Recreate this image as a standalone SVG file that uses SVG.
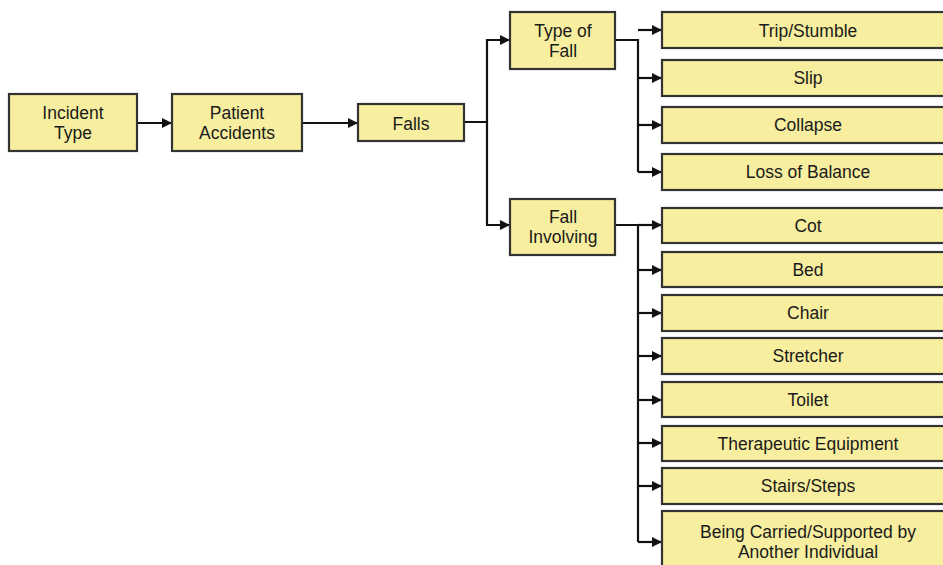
<svg xmlns="http://www.w3.org/2000/svg" width="943" height="565" viewBox="0 0 943 565">
<style>
.box{fill:#F7EE9F;stroke:#333;stroke-width:2.2}
.t{font-family:"Liberation Sans",Arial,sans-serif;font-size:17.5px;fill:#1a1a1a;text-anchor:middle}
.c{fill:none;stroke:#111;stroke-width:2.2}
</style>
<defs>
<marker id="ah" viewBox="0 0 10 10" refX="10" refY="5" markerWidth="12" markerHeight="10" markerUnits="userSpaceOnUse" orient="auto">
<path d="M0,0 L10,5 L0,10 z" fill="#111"/>
</marker>
</defs>
<rect width="943" height="565" fill="#fff"/>
<g id="connectors">
<path class="c" d="M137,123 H172" marker-end="url(#ah)"/>
<path class="c" d="M302,123 H358" marker-end="url(#ah)"/>
<path class="c" d="M464,122 H487 V40 H510" marker-end="url(#ah)"/>
<path class="c" d="M487,122 V225 H510" marker-end="url(#ah)"/>
<path class="c" d="M615,40 H638 V172"/>
<path class="c" d="M638,30 H662" marker-end="url(#ah)"/>
<path class="c" d="M638,78 H662" marker-end="url(#ah)"/>
<path class="c" d="M638,125 H662" marker-end="url(#ah)"/>
<path class="c" d="M638,172 H662" marker-end="url(#ah)"/>
<path class="c" d="M615,225 H638 V542"/>
<path class="c" d="M638,225 H662" marker-end="url(#ah)"/>
<path class="c" d="M638,270 H662" marker-end="url(#ah)"/>
<path class="c" d="M638,313 H662" marker-end="url(#ah)"/>
<path class="c" d="M638,356 H662" marker-end="url(#ah)"/>
<path class="c" d="M638,400 H662" marker-end="url(#ah)"/>
<path class="c" d="M638,443 H662" marker-end="url(#ah)"/>
<path class="c" d="M638,486 H662" marker-end="url(#ah)"/>
<path class="c" d="M638,542 H662" marker-end="url(#ah)"/>
</g>
<g id="incident-type"><rect class="box" x="9" y="94" width="128" height="57"/><text class="t" x="73" y="119">Incident</text><text class="t" x="73" y="139">Type</text></g>
<g id="patient-accidents"><rect class="box" x="172" y="94" width="130" height="57"/><text class="t" x="237" y="119">Patient</text><text class="t" x="237" y="139">Accidents</text></g>
<g id="falls"><rect class="box" x="358" y="104" width="106" height="37"/><text class="t" x="411" y="130">Falls</text></g>
<g id="type-of-fall"><rect class="box" x="510" y="12" width="105" height="57"/><text class="t" x="563" y="37">Type of</text><text class="t" x="563" y="57">Fall</text></g>
<g id="fall-involving"><rect class="box" x="510" y="199" width="105" height="56"/><text class="t" x="563" y="223">Fall</text><text class="t" x="563" y="243">Involving</text></g>
<g id="trip-stumble"><rect class="box" x="662" y="12" width="292" height="36"/><text class="t" x="808" y="37">Trip/Stumble</text></g>
<g id="slip"><rect class="box" x="662" y="60" width="292" height="36"/><text class="t" x="808" y="84">Slip</text></g>
<g id="collapse"><rect class="box" x="662" y="107" width="292" height="36"/><text class="t" x="808" y="131">Collapse</text></g>
<g id="loss-of-balance"><rect class="box" x="662" y="154" width="292" height="36"/><text class="t" x="808" y="178">Loss of Balance</text></g>
<g id="cot"><rect class="box" x="662" y="208" width="292" height="35"/><text class="t" x="808" y="232">Cot</text></g>
<g id="bed"><rect class="box" x="662" y="252" width="292" height="35"/><text class="t" x="808" y="276">Bed</text></g>
<g id="chair"><rect class="box" x="662" y="295" width="292" height="36"/><text class="t" x="808" y="319">Chair</text></g>
<g id="stretcher"><rect class="box" x="662" y="338" width="292" height="36"/><text class="t" x="808" y="362">Stretcher</text></g>
<g id="toilet"><rect class="box" x="662" y="382" width="292" height="35"/><text class="t" x="808" y="406">Toilet</text></g>
<g id="therapeutic-equipment"><rect class="box" x="662" y="426" width="292" height="35"/><text class="t" x="808" y="450">Therapeutic Equipment</text></g>
<g id="stairs-steps"><rect class="box" x="662" y="468" width="292" height="36"/><text class="t" x="808" y="492">Stairs/Steps</text></g>
<g id="being-carried"><rect class="box" x="662" y="511" width="292" height="60"/><text class="t" x="808" y="538">Being Carried/Supported by</text><text class="t" x="808" y="558">Another Individual</text></g>
</svg>
